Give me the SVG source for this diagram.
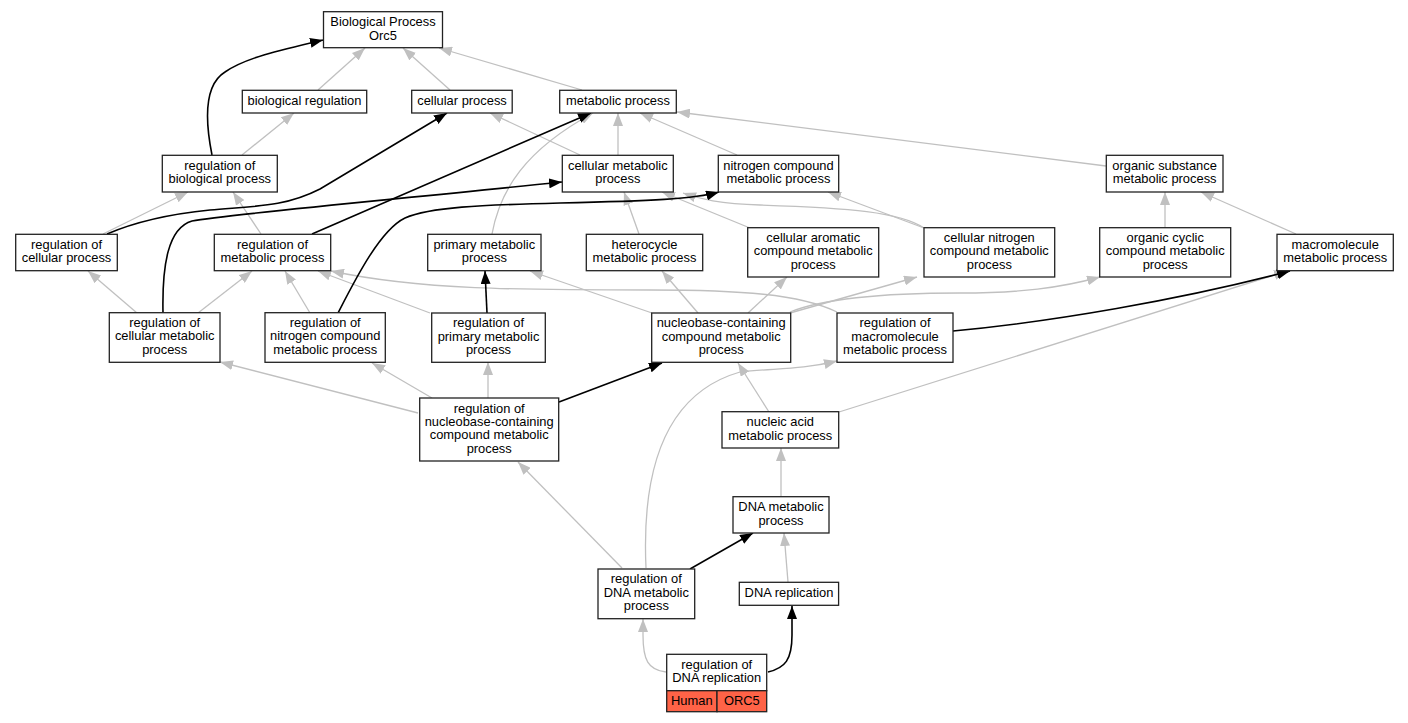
<svg xmlns="http://www.w3.org/2000/svg" width="1408" height="723" viewBox="0 0 1408 723">
<style>
.bx{fill:#fff;stroke:#222;stroke-width:1.3}
.t{font-family:"Liberation Sans",Arial,sans-serif;font-size:12.9px;text-anchor:middle;fill:#000}
.g{fill:none;stroke:#c0c0c0;stroke-width:1.3;marker-end:url(#ag)}
.k{fill:none;stroke:#000;stroke-width:1.6;marker-end:url(#ak)}
.red{fill:#ff6347;stroke:#222;stroke-width:1.3}
</style>
<defs>
<marker id="ag" viewBox="0 0 13 10" refX="13" refY="5" markerWidth="13" markerHeight="10" markerUnits="userSpaceOnUse" orient="auto"><path d="M0,0 L13,5 L0,10 z" fill="#c0c0c0"/></marker>
<marker id="ak" viewBox="0 0 13 10" refX="13" refY="5" markerWidth="13" markerHeight="10" markerUnits="userSpaceOnUse" orient="auto"><path d="M0,0 L13,5 L0,10 z" fill="#000"/></marker>
</defs>
<rect width="1408" height="723" fill="#fff"/>
<g id="edges">
<path class="g" d="M318,90 L365,48"/>
<path class="g" d="M450,90 L403,48"/>
<path class="g" d="M582,90 L439,48"/>
<path class="g" d="M242,155 L294,113"/>
<path class="g" d="M580,155 L490,113"/>
<path class="g" d="M618,155 L618,113"/>
<path class="g" d="M737,155 L640,113"/>
<path class="g" d="M1106,166 L677,112"/>
<path class="g" d="M103,234 L188,192"/>
<path class="g" d="M492,234 C500,190 525,150 593,113"/>
<path class="g" d="M639,234 L624,192"/>
<path class="g" d="M750,228 L662,192"/>
<path class="g" d="M924,228 C900,212 850,208 760,205 C720,204 700,199 683,193"/>
<path class="g" d="M924,228 L828,192"/>
<path class="g" d="M1165,228 L1165,192"/>
<path class="g" d="M1296,234 L1201,192"/>
<path class="g" d="M261,234 L233,192"/>
<path class="g" d="M137,313 L88,271"/>
<path class="g" d="M198,313 L252,271"/>
<path class="g" d="M310,313 L285,271"/>
<path class="g" d="M430,313 L318,271"/>
<path class="g" d="M837,312 C800,294 740,290 650,290 C520,290 420,290 331,271"/>
<path class="g" d="M652,313 L530,271"/>
<path class="g" d="M698,313 L662,271"/>
<path class="g" d="M748,313 L787,277"/>
<path class="g" d="M790,313 L917,277"/>
<path class="g" d="M790,312 C830,296 900,293 960,293 C1020,293 1060,288 1100,277"/>
<path class="g" d="M418,413 L220,362"/>
<path class="g" d="M432,398 L372,363"/>
<path class="g" d="M488,398 L488,362"/>
<path class="g" d="M769,412 L738,363"/>
<path class="g" d="M839,412 L1287,271"/>
<path class="g" d="M622,568 L518,462"/>
<path class="g" d="M646,568 C642,480 660,395 740,372 C775,368 800,370 837,361"/>
<path class="g" d="M781,497 L781,448"/>
<path class="g" d="M788,582 L784,533"/>
<path class="g" d="M666,672 C648,670 643,660 643,635 L643,619"/>
<path class="k" d="M212,155 C205,120 204,85 225,72 C245,58 280,50 323,40"/>
<path class="k" d="M107,234 C135,222 170,214 210,210 C255,206 285,207 320,189 L447,113"/>
<path class="k" d="M312,234 L591,113"/>
<path class="k" d="M163,313 C162,265 168,228 192,221 C230,214 400,199 562,182"/>
<path class="k" d="M338,313 C355,280 380,230 405,218 C430,207 480,205 560,203 C650,201 695,199 719,192"/>
<path class="k" d="M487,313 L485,271"/>
<path class="k" d="M953,331 C1050,322 1180,300 1290,271"/>
<path class="k" d="M559,402 L662,363"/>
<path class="k" d="M690,569 L753,533"/>
<path class="k" d="M768,672 C785,668 792,660 792,635 L792,606"/>
</g>
<g id="n_bp"><rect class="bx" x="323.5" y="11.7" width="119" height="36"/><text class="t" x="383" y="26.2">Biological Process</text><text class="t" x="383" y="39.5">Orc5</text></g>
<g id="n_bioreg"><rect class="bx" x="242.3" y="90.3" width="124.4" height="22.7"/><text class="t" x="304.5" y="105.2">biological regulation</text></g>
<g id="n_cellproc"><rect class="bx" x="411.7" y="90.3" width="100.5" height="22.7"/><text class="t" x="462" y="105.2">cellular process</text></g>
<g id="n_metproc"><rect class="bx" x="559.7" y="90.3" width="116.6" height="22.7"/><text class="t" x="618" y="105.2">metabolic process</text></g>
<g id="n_regbio"><rect class="bx" x="162.3" y="155.3" width="115" height="36.7"/><text class="t" x="219.8" y="169.8">regulation of</text><text class="t" x="219.8" y="183.1">biological process</text></g>
<g id="n_cellmet"><rect class="bx" x="562.3" y="155.3" width="111" height="36.7"/><text class="t" x="617.8" y="169.8">cellular metabolic</text><text class="t" x="617.8" y="183.1">process</text></g>
<g id="n_nitro"><rect class="bx" x="718.3" y="155.3" width="120.4" height="36.7"/><text class="t" x="778.5" y="169.8">nitrogen compound</text><text class="t" x="778.5" y="183.1">metabolic process</text></g>
<g id="n_orgsub"><rect class="bx" x="1106.3" y="155.3" width="116.7" height="36.7"/><text class="t" x="1164.6" y="169.8">organic substance</text><text class="t" x="1164.6" y="183.1">metabolic process</text></g>
<g id="n_regcell"><rect class="bx" x="15.7" y="234.3" width="101.6" height="36.4"/><text class="t" x="66.5" y="248.8">regulation of</text><text class="t" x="66.5" y="262.1">cellular process</text></g>
<g id="n_regmet"><rect class="bx" x="214.3" y="234.3" width="116.4" height="36.4"/><text class="t" x="272.5" y="248.8">regulation of</text><text class="t" x="272.5" y="262.1">metabolic process</text></g>
<g id="n_primary"><rect class="bx" x="427.7" y="234.3" width="113.3" height="36.4"/><text class="t" x="484.3" y="248.8">primary metabolic</text><text class="t" x="484.3" y="262.1">process</text></g>
<g id="n_hetero"><rect class="bx" x="586.3" y="234.3" width="116.4" height="36.4"/><text class="t" x="644.5" y="248.8">heterocycle</text><text class="t" x="644.5" y="262.1">metabolic process</text></g>
<g id="n_cellarom"><rect class="bx" x="747.7" y="227.7" width="131" height="49.3"/><text class="t" x="813.2" y="241.9">cellular aromatic</text><text class="t" x="813.2" y="255.3">compound metabolic</text><text class="t" x="813.2" y="268.7">process</text></g>
<g id="n_cellnitro"><rect class="bx" x="924" y="227.7" width="130.7" height="49.3"/><text class="t" x="989.3" y="241.9">cellular nitrogen</text><text class="t" x="989.3" y="255.3">compound metabolic</text><text class="t" x="989.3" y="268.7">process</text></g>
<g id="n_orgcyc"><rect class="bx" x="1099.7" y="227.7" width="131" height="49.3"/><text class="t" x="1165.2" y="241.9">organic cyclic</text><text class="t" x="1165.2" y="255.3">compound metabolic</text><text class="t" x="1165.2" y="268.7">process</text></g>
<g id="n_macro"><rect class="bx" x="1277" y="234.3" width="116.3" height="36.4"/><text class="t" x="1335.2" y="248.8">macromolecule</text><text class="t" x="1335.2" y="262.1">metabolic process</text></g>
<g id="n_regcellmet"><rect class="bx" x="109.3" y="312.7" width="110.7" height="49.6"/><text class="t" x="164.7" y="326.9">regulation of</text><text class="t" x="164.7" y="340.3">cellular metabolic</text><text class="t" x="164.7" y="353.7">process</text></g>
<g id="n_regnitro"><rect class="bx" x="265" y="312.7" width="120.3" height="49.6"/><text class="t" x="325.2" y="326.9">regulation of</text><text class="t" x="325.2" y="340.3">nitrogen compound</text><text class="t" x="325.2" y="353.7">metabolic process</text></g>
<g id="n_regprim"><rect class="bx" x="431.7" y="313" width="113.6" height="49.3"/><text class="t" x="488.5" y="327.2">regulation of</text><text class="t" x="488.5" y="340.6">primary metabolic</text><text class="t" x="488.5" y="354">process</text></g>
<g id="n_nucleo"><rect class="bx" x="651.7" y="313" width="139" height="49.3"/><text class="t" x="721.2" y="327.2">nucleobase-containing</text><text class="t" x="721.2" y="340.6">compound metabolic</text><text class="t" x="721.2" y="354">process</text></g>
<g id="n_regmacro"><rect class="bx" x="837" y="313" width="116" height="49.3"/><text class="t" x="895" y="327.2">regulation of</text><text class="t" x="895" y="340.6">macromolecule</text><text class="t" x="895" y="354">metabolic process</text></g>
<g id="n_regnucleo"><rect class="bx" x="419.7" y="398" width="139" height="63"/><text class="t" x="489.2" y="412.5">regulation of</text><text class="t" x="489.2" y="425.9">nucleobase-containing</text><text class="t" x="489.2" y="439.3">compound metabolic</text><text class="t" x="489.2" y="452.7">process</text></g>
<g id="n_nucacid"><rect class="bx" x="722" y="411.7" width="116.7" height="36.3"/><text class="t" x="780.3" y="426.2">nucleic acid</text><text class="t" x="780.3" y="439.5">metabolic process</text></g>
<g id="n_dnamet"><rect class="bx" x="733" y="496.7" width="96" height="36.3"/><text class="t" x="781" y="511.2">DNA metabolic</text><text class="t" x="781" y="524.5">process</text></g>
<g id="n_regdnamet"><rect class="bx" x="598" y="569" width="96.7" height="49.7"/><text class="t" x="646.3" y="583.2">regulation of</text><text class="t" x="646.3" y="596.6">DNA metabolic</text><text class="t" x="646.3" y="610">process</text></g>
<g id="n_dnarep"><rect class="bx" x="739.3" y="582.3" width="99.3" height="23"/><text class="t" x="789" y="597.2">DNA replication</text></g>
<g id="n_regdnarep"><rect class="bx" x="666.7" y="654.3" width="100" height="36.4"/><rect class="red" x="666.7" y="690.7" width="50.3" height="21"/><rect class="red" x="717" y="690.7" width="49.7" height="21"/><text class="t" x="716.7" y="668.6">regulation of</text><text class="t" x="716.7" y="681.9">DNA replication</text><text class="t" x="691.8" y="704.6">Human</text><text class="t" x="741.8" y="704.6">ORC5</text></g>
</svg>
